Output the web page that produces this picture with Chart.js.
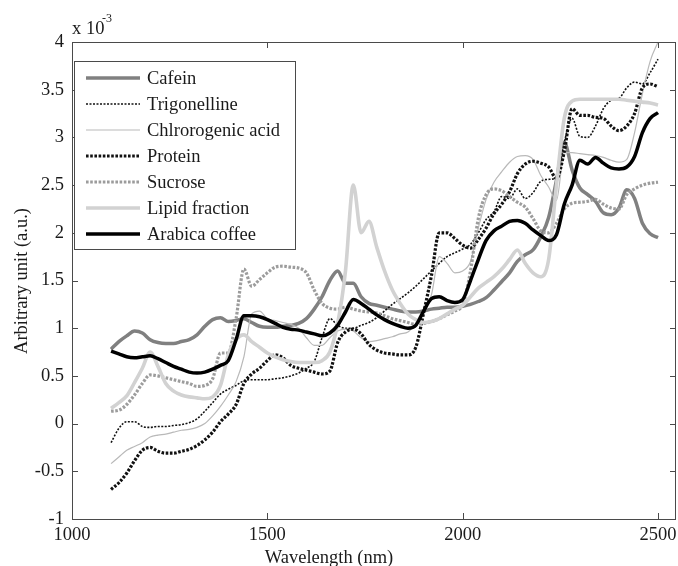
<!DOCTYPE html>
<html><head><meta charset="utf-8">
<script src="https://cdn.jsdelivr.net/npm/chart.js@4.4.1/dist/chart.umd.min.js"></script>
<style>html,body{margin:0;padding:0;background:#fff;}canvas{display:block;}</style>
</head><body>
<canvas id="c" width="678" height="566"></canvas>
<script>
const wavelengths = [1100,1120,1140,1160,1180,1200,1220,1240,1260,1280,1300,1320,1340,1360,1380,1400,1420,1440,1460,1480,1500,1520,1540,1560,1580,1600,1620,1640,1660,1680,1700,1720,1740,1760,1780,1800,1820,1840,1860,1880,1900,1920,1940,1960,1980,2000,2020,2040,2060,2080,2100,2120,2140,2160,2180,2200,2220,2240,2260,2280,2300,2320,2340,2360,2380,2400,2420,2440,2460,2480,2500];

const cafein = [0.78,0.86,0.92,0.97,0.95,0.88,0.85,0.84,0.84,0.86,
 0.88,0.93,1.02,1.09,1.11,1.07,1.08,1.10,1.06,1.02,
 1.01,1.01,1.02,1.03,1.05,1.10,1.20,1.33,1.50,1.60,
 1.47,1.47,1.33,1.26,1.24,1.22,1.20,1.18,1.17,1.17,
 1.18,1.20,1.21,1.22,1.22,1.23,1.25,1.28,1.32,1.40,
 1.49,1.58,1.70,1.77,1.82,1.96,2.16,2.55,2.95,2.66,
 2.47,2.40,2.33,2.21,2.19,2.26,2.45,2.36,2.10,1.99,
 1.95];
const trigonelline = [-0.20,-0.05,0.02,0.02,-0.03,-0.04,-0.03,-0.03,-0.02,-0.01,
 0.01,0.05,0.13,0.22,0.31,0.36,0.40,0.45,0.46,0.46,
 0.46,0.47,0.48,0.50,0.53,0.58,0.65,0.90,1.10,1.03,
 1.00,1.00,1.03,1.06,1.11,1.18,1.25,1.31,1.37,1.44,
 1.52,1.60,1.68,1.75,1.79,1.83,1.88,2.00,2.14,2.22,
 2.38,2.36,2.46,2.36,2.42,2.54,2.56,2.58,2.95,3.20,
 3.01,3.00,3.12,3.30,3.39,3.41,3.52,3.58,3.56,3.68,
 3.82];
const chlorogenic = [-0.42,-0.35,-0.28,-0.24,-0.20,-0.14,-0.12,-0.11,-0.09,-0.07,
 -0.06,-0.04,0.00,0.08,0.18,0.30,0.44,0.70,1.15,1.18,
 1.10,1.08,1.06,1.04,1.00,0.90,0.82,0.82,0.90,0.97,
 0.99,0.97,0.90,0.86,0.87,0.89,0.91,0.94,0.96,1.05,
 1.18,1.35,1.75,1.68,1.58,1.60,1.70,2.05,2.35,2.53,
 2.64,2.74,2.80,2.81,2.77,2.60,2.48,2.34,2.84,2.84,
 2.83,2.82,2.81,2.79,2.76,2.74,2.77,3.05,3.46,3.80,
 4.00];
const protein = [-0.69,-0.62,-0.52,-0.39,-0.28,-0.25,-0.29,-0.31,-0.31,-0.29,
 -0.27,-0.23,-0.17,-0.09,0.02,0.10,0.20,0.42,0.52,0.58,
 0.66,0.72,0.69,0.61,0.58,0.56,0.54,0.52,0.55,0.85,
 0.96,0.99,0.94,0.83,0.77,0.74,0.73,0.72,0.72,0.80,
 1.16,1.55,2.00,2.00,1.94,1.87,1.84,1.93,2.05,2.20,
 2.30,2.43,2.62,2.72,2.75,2.73,2.69,2.57,2.85,3.30,
 3.23,3.23,3.21,3.20,3.12,3.07,3.12,3.25,3.52,3.56,
 3.53];
const sucrose = [0.13,0.14,0.20,0.30,0.42,0.51,0.50,0.48,0.46,0.44,
 0.42,0.39,0.40,0.47,0.74,0.74,1.10,1.62,1.44,1.51,
 1.58,1.64,1.65,1.64,1.63,1.58,1.40,1.26,1.21,1.20,
 1.22,1.20,1.18,1.17,1.16,1.13,1.10,1.08,1.06,1.04,
 1.05,1.07,1.10,1.14,1.18,1.25,1.60,2.15,2.40,2.46,
 2.44,2.38,2.32,2.27,2.15,2.02,2.00,2.10,2.25,2.31,
 2.32,2.33,2.35,2.30,2.26,2.25,2.40,2.46,2.50,2.52,
 2.53];
const lipid = [0.16,0.22,0.29,0.43,0.58,0.75,0.60,0.42,0.34,0.30,
 0.28,0.27,0.26,0.28,0.40,0.72,0.88,0.93,0.86,0.80,
 0.74,0.70,0.67,0.65,0.64,0.64,0.64,0.66,0.75,1.05,
 1.60,2.50,2.00,2.12,1.85,1.60,1.40,1.26,1.15,1.09,
 1.06,1.07,1.10,1.15,1.20,1.24,1.33,1.42,1.48,1.54,
 1.62,1.72,1.82,1.68,1.58,1.54,1.72,2.50,3.20,3.38,
 3.40,3.40,3.40,3.40,3.40,3.40,3.39,3.38,3.37,3.36,
 3.34];
const arabica = [0.76,0.73,0.70,0.69,0.70,0.71,0.68,0.64,0.60,0.57,
 0.54,0.53,0.54,0.57,0.61,0.66,0.88,1.13,1.13,1.12,
 1.09,1.05,1.01,0.99,0.98,0.96,0.94,0.92,0.95,1.03,
 1.17,1.30,1.26,1.20,1.14,1.09,1.05,1.02,1.00,1.03,
 1.18,1.31,1.33,1.29,1.27,1.30,1.50,1.72,1.92,2.02,
 2.07,2.12,2.13,2.10,2.03,1.97,1.92,1.98,2.30,2.50,
 2.76,2.72,2.79,2.73,2.68,2.67,2.69,2.80,3.05,3.20,
 3.26];

const seriesNames = ['Cafein','Trigonelline','Chlrorogenic acid','Protein','Sucrose','Lipid fraction','Arabica coffee'];
const seriesValues = [cafein, trigonelline, chlorogenic, protein, sucrose, lipid, arabica];
const xTickValues = [1000,1500,2000,2500];
const yTickValues = [-1,-0.5,0,0.5,1,1.5,2,2.5,3,3.5,4];
const xTitle = 'Wavelength (nm)';
const yTitle = 'Arbitrary unit (a.u.)';

const FONT = "'Liberation Serif','Times New Roman',serif";
const TEXT = '#1a1a1a';
const styles = [
  {color:'#808080', width:3.5, dash:[]},
  {color:'#111111', width:1.6, dash:[2,1.5]},
  {color:'#b9b9b9', width:1.2, dash:[]},
  {color:'#111111', width:3.2, dash:[2.6,1.6]},
  {color:'#9c9c9c', width:3.2, dash:[2.6,1.6]},
  {color:'#d2d2d2', width:3.6, dash:[]},
  {color:'#000000', width:3.5, dash:[]}
];

const datasets = seriesValues.map((vals, i) => ({
  label: seriesNames[i],
  data: wavelengths.map((w, k) => ({x: w, y: vals[k]})),
  borderColor: styles[i].color,
  borderWidth: styles[i].width,
  borderDash: styles[i].dash,
  pointRadius: 0,
  fill: false,
  cubicInterpolationMode: 'monotone',
  order: seriesValues.length - 1 - i
}));

const decor = {
  id: 'decor',
  afterDatasetsDraw(chart) {
    const ctx = chart.ctx, a = chart.chartArea;
    const xs = chart.scales.x, ys = chart.scales.y;
    ctx.save();
    ctx.setLineDash([]);
    ctx.strokeStyle = '#4a4a4a';
    ctx.lineWidth = 1;
    ctx.strokeRect(Math.round(a.left) + 0.5, Math.round(a.top) + 0.5, Math.round(a.right - a.left) - 1, Math.round(a.bottom - a.top));
    const tl = 6;
    ctx.beginPath();
    xTickValues.forEach(v => {
      const px = Math.round(xs.getPixelForValue(v)) + 0.5;
      ctx.moveTo(px, a.bottom); ctx.lineTo(px, a.bottom - tl);
      ctx.moveTo(px, a.top); ctx.lineTo(px, a.top + tl);
    });
    yTickValues.forEach(v => {
      const py = Math.round(ys.getPixelForValue(v)) + 0.5;
      ctx.moveTo(a.left, py); ctx.lineTo(a.left + tl, py);
      ctx.moveTo(a.right, py); ctx.lineTo(a.right - tl, py);
    });
    ctx.stroke();
    const lx = 74.5, ly = 61.5, lw = 221, lh = 188;
    ctx.fillStyle = '#ffffff';
    ctx.fillRect(lx, ly, lw, lh);
    ctx.strokeStyle = '#4a4a4a';
    ctx.lineWidth = 1;
    ctx.strokeRect(lx, ly, lw, lh);
    ctx.font = '18.5px ' + FONT;
    ctx.textBaseline = 'middle';
    ctx.textAlign = 'left';
    seriesNames.forEach((name, i) => {
      const y = 78 + i * 26;
      ctx.strokeStyle = styles[i].color;
      ctx.lineWidth = styles[i].width;
      ctx.setLineDash(styles[i].dash);
      ctx.beginPath();
      ctx.moveTo(86, y); ctx.lineTo(140, y);
      ctx.stroke();
      ctx.setLineDash([]);
      ctx.fillStyle = TEXT;
      ctx.fillText(name, 147, y + 1);
    });
    ctx.restore();
  },
  afterDraw(chart) {
    const ctx = chart.ctx;
    ctx.save();
    ctx.fillStyle = TEXT;
    ctx.font = '18.5px ' + FONT;
    ctx.textAlign = 'center';
    ctx.textBaseline = 'alphabetic';
    ctx.fillText(xTitle, 329, 563);
    ctx.save();
    ctx.translate(27, 281);
    ctx.rotate(-Math.PI / 2);
    ctx.fillText(yTitle, 0, 0);
    ctx.restore();
    ctx.textAlign = 'left';
    ctx.font = '18.5px ' + FONT;
    ctx.fillText('x 10', 72, 34);
    ctx.font = '12px ' + FONT;
    ctx.fillText('-3', 102, 22);
    ctx.restore();
  }
};

new Chart(document.getElementById('c'), {
  type: 'line',
  data: { datasets },
  options: {
    responsive: false,
    animation: false,
    devicePixelRatio: 1,
    layout: { padding: { top: 42, right: 2, left: 0, bottom: 0 } },
    plugins: { legend: { display: false }, tooltip: { enabled: false } },
    scales: {
      x: {
        type: 'linear', min: 1000, max: 2546,
        afterBuildTicks: s => { s.ticks = xTickValues.map(v => ({value: v})); },
        afterFit: s => { s.height = 47; s.paddingLeft = 0; s.paddingRight = 0; },
        grid: { display: false, drawTicks: false },
        border: { display: false },
        ticks: { padding: 5, color: TEXT, font: { family: FONT, size: 18.5 }, maxRotation: 0, autoSkip: false, callback: v => String(v) }
      },
      y: {
        type: 'linear', min: -1, max: 4,
        afterBuildTicks: s => { s.ticks = yTickValues.map(v => ({value: v})); },
        afterFit: s => { s.width = 72; s.paddingTop = 0; s.paddingBottom = 0; },
        grid: { display: false, drawTicks: false },
        border: { display: false },
        ticks: { padding: 8, color: TEXT, font: { family: FONT, size: 18.5 }, autoSkip: false, callback: v => String(v) }
      }
    }
  },
  plugins: [decor]
});
</script>
</body></html>
